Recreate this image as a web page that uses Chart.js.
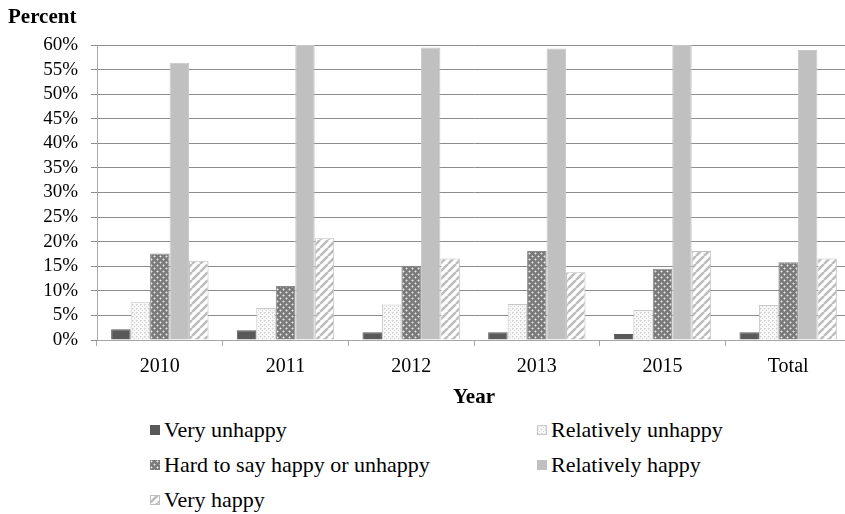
<!DOCTYPE html>
<html><head><meta charset="utf-8">
<script src="https://cdn.jsdelivr.net/npm/chart.js@4.4.1/dist/chart.umd.min.js"></script>
<style>
html,body{margin:0;padding:0;background:#fff;overflow:hidden;width:845px;height:514px;}
#c{position:absolute;left:0;top:0;}
#ptitle{position:absolute;left:8px;top:4px;font-family:"Liberation Serif","Times New Roman",serif;font-weight:bold;font-size:21px;color:#000;}
.leg{position:absolute;font-family:"Liberation Serif","Times New Roman",serif;font-size:22px;color:#000;white-space:nowrap;height:24px;line-height:24px;}
.leg canvas{position:absolute;left:0;top:7px;}
.leg span{position:absolute;left:14px;top:0;font-family:"Liberation Serif","Times New Roman",serif;}
</style></head>
<body>
<canvas id="c" width="860" height="414"></canvas>
<div id="ptitle">Percent</div>
<div id="legend"></div>
<script>
const categories = ['2010','2011','2012','2013','2015','Total'];
const seriesNames = ['Very unhappy','Relatively unhappy','Hard to say happy or unhappy','Relatively happy','Very happy'];
const veryUnhappy = [2.2, 2.0, 1.6, 1.6, 1.2, 1.6];
const relUnhappy  = [7.8, 6.5, 7.2, 7.3, 6.1, 7.1];
const hardToSay   = [17.6, 11.0, 15.1, 18.1, 14.5, 15.8];
const relHappy    = [56.4, 60.0, 59.5, 59.3, 60.0, 59.0];
const veryHappy   = [16.1, 20.7, 16.6, 13.8, 18.1, 16.6];
const yTicks = [0,5,10,15,20,25,30,35,40,45,50,55,60];

function mk(w,h,draw){const c=document.createElement('canvas');c.width=w;c.height=h;const x=c.getContext('2d');draw(x);return c;}
function patRelUnhappy(){return mk(4,4,x=>{x.fillStyle='#f7f7f7';x.fillRect(0,0,4,4);x.fillStyle='#d0d0d0';x.fillRect(0,0,1,1);x.fillRect(2,2,1,1);x.fillStyle='#e2e2e2';x.fillRect(1,0,1,1);x.fillRect(0,1,1,1);});}
function patHard(){return mk(6,6,x=>{x.fillStyle='#7a7a7a';x.fillRect(0,0,6,6);x.fillStyle='#e8e8e8';x.fillRect(1,1,1,1);x.fillRect(4,4,1,1);x.fillStyle='#b0b0b0';x.fillRect(0,1,1,1);x.fillRect(2,1,1,1);x.fillRect(1,0,1,1);x.fillRect(1,2,1,1);x.fillRect(3,4,1,1);x.fillRect(5,4,1,1);x.fillRect(4,3,1,1);x.fillRect(4,5,1,1);});}
function patVeryHappy(){return mk(8,8,x=>{x.fillStyle='#ffffff';x.fillRect(0,0,8,8);x.strokeStyle='#bdbdbd';x.lineWidth=2.6;for(let k=-8;k<=16;k+=8){x.beginPath();x.moveTo(k,8);x.lineTo(k+8,0);x.stroke();}});}

const ctx=document.getElementById('c').getContext('2d');
const fills=[
  '#595959',
  ctx.createPattern(patRelUnhappy(),'repeat'),
  ctx.createPattern(patHard(),'repeat'),
  '#c0c0c0',
  ctx.createPattern(patVeryHappy(),'repeat')
];
const borders=['#595959','#c8c8c8','#8a8a8a','#c8c8c8','#bfbfbf'];
const values=[veryUnhappy,relUnhappy,hardToSay,relHappy,veryHappy];

Chart.defaults.font.family="'Liberation Serif','Times New Roman',serif";
Chart.defaults.color='#000';

new Chart(ctx,{
  type:'bar',
  data:{labels:categories,datasets:values.map((v,i)=>({label:seriesNames[i],data:v,backgroundColor:fills[i],borderColor:borders[i],borderWidth:1,categoryPercentage:0.775,barPercentage:1.0}))},
  options:{
    responsive:false,animation:false,
    layout:{padding:{left:0,top:45,right:9,bottom:0}},
    plugins:{legend:{display:false},tooltip:{enabled:false},title:{display:false}},
    scales:{
      y:{min:0,max:60,afterFit:s=>{s.width=97;},
        afterBuildTicks:s=>{s.ticks=yTicks.map(v=>({value:v}));},
        ticks:{font:{size:19},color:'#000',padding:13,autoSkip:false,callback:v=>v+'%'},
        grid:{color:'#8c8c8c',tickLength:6,drawTicks:true},
        border:{color:'#a6a6a6'}},
      x:{afterFit:s=>{s.height=414-340;},
        ticks:{font:{size:20},color:'#000',padding:9,autoSkip:false,maxRotation:0},
        grid:{display:true,drawOnChartArea:false,tickLength:6,color:'#a6a6a6',offset:true},
        border:{color:'#a6a6a6'},
        title:{display:true,text:'Year',font:{size:21,weight:'bold'},color:'#000',padding:{top:0,bottom:4}}}
    }
  }
});

const legendPos=[[150,418],[537,418],[150,453],[537,453],[150,488]];
const lg=document.getElementById('legend');
seriesNames.forEach((n,i)=>{
  const d=document.createElement('div');d.className='leg';d.style.left=legendPos[i][0]+'px';d.style.top=legendPos[i][1]+'px';
  const sc=document.createElement('canvas');sc.width=10;sc.height=10;
  const sx=sc.getContext('2d');sx.fillStyle=(typeof fills[i]==='string')?fills[i]:sx.createPattern([null,patRelUnhappy,patHard,null,patVeryHappy][i](),'repeat');
  sx.fillRect(0,0,10,10);
  if(i===1||i===4){sx.strokeStyle=borders[i];sx.lineWidth=1;sx.strokeRect(0.5,0.5,9,9);}
  const sp=document.createElement('span');sp.textContent=n;
  d.appendChild(sc);d.appendChild(sp);lg.appendChild(d);
});
</script>
</body></html>
